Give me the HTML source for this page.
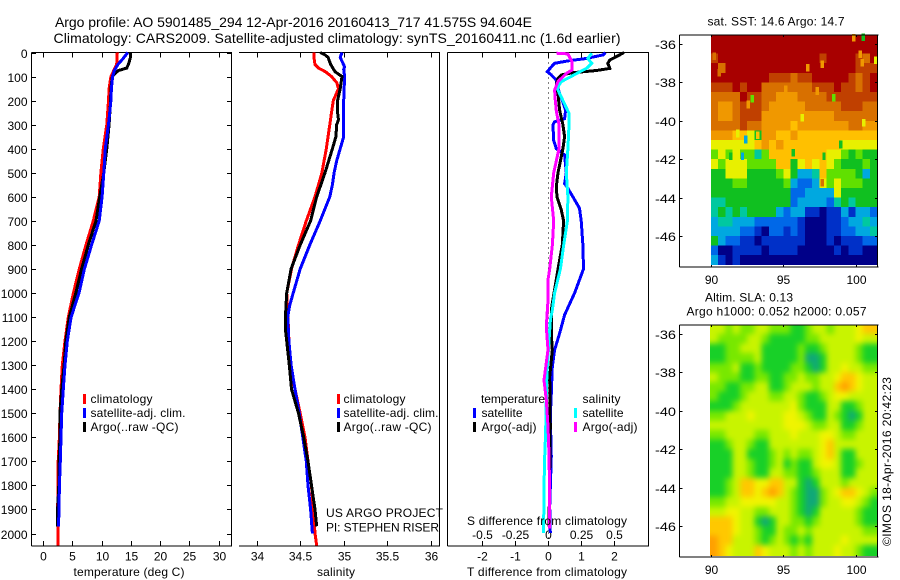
<!DOCTYPE html>
<html lang="en">
<head>
<meta charset="utf-8">
<title>Argo profile</title>
<style>
html,body{margin:0;padding:0;background:#fff;width:900px;height:580px;overflow:hidden}
svg{display:block}
text{font-family:"Liberation Sans",sans-serif;font-size:12px;fill:#000}
.t14{font-size:14px}
</style>
</head>
<body>
<svg id="fig" xmlns="http://www.w3.org/2000/svg" width="900" height="580" viewBox="0 0 900 580">
<defs>
<clipPath id="slaClip"><rect x="710" y="325" width="167" height="231"/></clipPath>
<filter id="slaBlur" x="-10%" y="-10%" width="120%" height="120%" color-interpolation-filters="sRGB"><feGaussianBlur stdDeviation="2.8"/></filter>
</defs>
<text class="t14" x="55" y="27" textLength="477">Argo profile: AO 5901485_294 12-Apr-2016 20160413_717 41.575S 94.604E</text>
<text class="t14" x="53.500" y="43" textLength="567">Climatology: CARS2009. Satellite-adjusted climatology: synTS_20160411.nc (1.6d earlier)</text>

<g id="maps"></g>
<g id="axes"></g>
<g id="series"></g>

<text x="129" y="576" text-anchor="middle" textLength="111">temperature (deg C)</text>
<text x="336" y="576" text-anchor="middle" textLength="38">salinity</text>
<text x="547" y="576" text-anchor="middle" textLength="160">T difference from climatology</text>
<text x="547" y="525" text-anchor="middle" textLength="160">S difference from climatology</text>

<g>
<rect x="83" y="394" width="3" height="10" fill="#ff0000"/><text x="90.500" y="403" textLength="62">climatology</text>
<rect x="83" y="408" width="3" height="10" fill="#0000ff"/><text x="90.500" y="417" textLength="95">satellite-adj. clim.</text>
<rect x="83" y="422" width="3" height="10" fill="#000"/><text x="90.500" y="431" textLength="88">Argo(..raw -QC)</text>
</g>
<g>
<rect x="337" y="394" width="3" height="10" fill="#ff0000"/><text x="343.500" y="403" textLength="62">climatology</text>
<rect x="337" y="408" width="3" height="10" fill="#0000ff"/><text x="343.500" y="417" textLength="95">satellite-adj. clim.</text>
<rect x="337" y="422" width="3" height="10" fill="#000"/><text x="343.500" y="431" textLength="88">Argo(..raw -QC)</text>
</g>
<g>
<text x="481" y="403" textLength="64">temperature</text>
<text x="582.500" y="403" textLength="38">salinity</text>
<rect x="473" y="408" width="3" height="10" fill="#0000ff"/><text x="481.500" y="417" textLength="41">satellite</text>
<rect x="473" y="422" width="3" height="10" fill="#000"/><text x="481.500" y="431" textLength="55">Argo(-adj)</text>
<rect x="574" y="408" width="3" height="10" fill="#00ffff"/><text x="582.500" y="417" textLength="41">satellite</text>
<rect x="574" y="422" width="3" height="10" fill="#ff00ff"/><text x="582.500" y="431" textLength="55">Argo(-adj)</text>
</g>
<text x="326" y="517" textLength="117">US ARGO PROJECT</text>
<text x="326" y="531.500" textLength="113">PI: STEPHEN RISER</text>

<text x="707.500" y="25.500" textLength="137">sat. SST: 14.6 Argo: 14.7</text>
<text x="705" y="301.500" textLength="88">Altim. SLA: 0.13</text>
<text x="686.500" y="315.500" textLength="180">Argo h1000: 0.052 h2000: 0.057</text>
<text transform="translate(891 546) rotate(-90)" textLength="169">©IMOS 18-Apr-2016 20:42:23</text>
</svg>

<script>
// ---- profile data: depth (m) and values ----
var depthTicks = [0,100,200,300,400,500,600,700,800,900,1000,1100,1200,1300,1400,1500,1600,1700,1800,1900,2000];
var tempTicks = [0,5,10,15,20,25,30];
var salTicks = [34,34.5,35,35.5,36];
var salTickLabels = ['34','34.5','35','35.5','36'];
var tDiffTicks = [-2,-1,0,1,2];
var sDiffTicks = [-0.5,-0.25,0,0.25,0.5];
var sDiffTickLabels = ['-0.5','-0.25','0','0.25','0.5'];

var tempClimDepth = [0,50,100,150,200,300,400,500,600,700,800,900,1000,1100,1200,1300,1400,1500,1600,1700,1800,1900,2000,2050];
var tempClim = [12.7,12.6,11.6,11.3,11.2,10.9,10.3,9.9,9.6,8.6,7.35,6.2,5.2,4.33,3.76,3.3,3.08,2.9,2.8,2.6,2.6,2.5,2.6,2.6];
var tempSatDepth = [0,25,50,75,100,150,200,300,400,500,600,700,800,900,1000,1100,1200,1300,1400,1500,1600,1700,1800,1900,1970];
var tempSat = [14.5,13.7,12.8,12.2,11.9,11.7,11.6,11.2,10.65,10.4,10.1,9.6,8.3,7.07,6.15,4.8,4.15,3.76,3.47,3.2,3.08,2.96,2.8,2.74,2.65];
var tempArgoDepth = [0,25,50,65,75,90,100,150,200,300,400,500,600,700,800,900,1000,1100,1200,1300,1400,1500,1600,1700,1800,1900,1970];
var tempArgo = [15,14.9,14.6,14.3,12.9,12.2,11.85,11.6,11.55,11.3,10.9,10.4,9.7,9.06,7.75,6.6,5.6,4.5,3.9,3.6,3.2,2.9,2.9,2.74,2.7,2.5,2.5];

var salClimDepth = [0,25,50,65,80,100,125,150,175,200,250,300,400,500,600,700,800,900,1000,1100,1200,1300,1400,1500,1600,1700,1800,1900,2000,2050];
var salClim = [34.66,34.66,34.67,34.71,34.79,34.86,34.92,34.94,34.91,34.88,34.86,34.84,34.8,34.75,34.67,34.57,34.48,34.4,34.345,34.36,34.37,34.38,34.44,34.5,34.555,34.59,34.63,34.65,34.67,34.69];
var salSatDepth = [0,20,40,60,70,100,200,300,350,400,450,500,550,600,650,700,800,900,1000,1050,1100,1200,1300,1400,1500,1600,1700,1800,1900,2000];
var salSat = [34.98,34.96,34.985,35.01,35,35.01,35,35,35,34.96,34.92,34.89,34.87,34.84,34.785,34.73,34.61,34.5,34.42,34.38,34.356,34.37,34.395,34.44,34.49,34.53,34.57,34.59,34.62,34.64];
var salArgoDepth = [0,10,20,50,80,100,150,200,250,280,300,350,400,500,600,700,800,900,1000,1100,1150,1200,1300,1400,1500,1600,1700,1800,1900,1970];
var salArgo = [34.73,34.785,34.82,34.85,34.9,34.98,34.96,34.93,34.93,34.94,34.92,34.91,34.87,34.785,34.69,34.62,34.5,34.395,34.345,34.33,34.33,34.345,34.375,34.4,34.48,34.54,34.59,34.63,34.67,34.69];

var tDiffSatDepth = [0,10,25,35,45,60,80,93,115,135,170,200,240,275,288,300,365,400,426,500,545,565,600,648,700,800,900,945,1000,1091,1168,1237,1306,1417,1514,1680,1888,1998];
var tDiffSat = [1.73,1.66,1.15,0.6,0.2,0.1,-0.02,0.1,0.25,0.27,0.35,0.43,0.53,0.5,0.2,0.15,0.17,0.25,0.5,0.55,0.5,0.6,0.75,0.95,1.0,1.05,1.07,0.95,0.8,0.5,0.35,0.2,0.13,0.1,0.07,0.1,0.05,0.07];
var tDiffArgoDepth = [0,10,31,45,66,75,84,93,107,135,170,240,300,350,400,500,558,600,655,700,800,900,1000,1070,1168,1237,1348,1555,1970];
var tDiffArgo = [2.29,2.16,1.86,1.8,1.86,1.46,0.75,0.4,0.3,0.25,0.3,0.35,0.45,0.5,0.45,0.3,0.25,0.27,0.4,0.47,0.43,0.3,0.18,0.1,0.1,0.13,0.05,0.07,0.03];
var sDiffSatDepth = [3,25,45,66,80,100,121,149,200,253,300,400,500,600,700,800,900,1000,1070,1112,1237,1334,1445,1583,1680,1805,1998];
var sDiffSat = [0.33,0.3,0.33,0.29,0.24,0.175,0.1,0.068,0.113,0.158,0.158,0.15,0.138,0.15,0.146,0.118,0.093,0.05,0.033,0.018,0.003,-0.008,-0.013,-0.018,-0.025,-0.03,-0.033];
var sDiffArgoDepth = [3,6,38,73,87,121,156,200,246,300,400,500,600,700,800,900,945,1029,1140,1237,1362,1445,1555,1680,1888,1980];
var sDiffArgo = [0.063,0.15,0.18,0.18,0.138,0.075,0.05,0.055,0.063,0.083,0.083,0.043,0.025,0.043,0.033,0.013,0,0,-0.013,0,-0.03,-0.013,0,0.008,0.013,0.013];

// ---- map data: one row per 0.5 deg latitude from -35.5, one column per 0.5 deg longitude from 90 ----
var mapLonTicks = [90,95,100];
var mapLatTicks = [-36,-38,-40,-42,-44,-46];
var sstPalette = ['#000088','#0030c8','#0068e8','#00a8e0','#00c8a0','#10c020','#60e000','#e8f000','#ffc000','#f09800','#d87000','#c04000','#a80000'];
var sstLevels = [
[12,12,12,12,12,12,12,12,12,12,12,12,12,12,12,12,12,12,12,12,12,12,12],
[12,12,12,12,12,12,12,12,12,12,12,12,12,12,12,12,12,12,12,12,12,12,12],
[11,12,12,12,12,12,12,12,12,12,12,12,12,12,12,11,12,12,12,12,11,10,12],
[12,10,12,12,12,12,12,12,12,12,12,12,12,12,12,12,12,12,12,12,11,11,11],
[12,12,12,12,12,12,12,12,11,11,11,10,11,11,12,12,12,12,12,11,10,11,12],
[11,11,11,12,11,12,12,10,10,10,10,10,10,10,11,11,11,12,11,11,10,11,12],
[10,10,10,10,12,11,11,10,10,9,9,9,10,10,10,10,11,11,11,11,11,11,11],
[10,9,9,10,11,11,11,10,9,9,9,9,9,10,10,10,10,10,11,11,11,10,10],
[10,9,9,10,11,11,11,9,9,9,9,9,9,9,9,9,9,10,10,10,10,10,10],
[10,10,10,10,11,10,10,9,9,9,9,8,9,9,9,9,9,9,9,10,10,9,9],
[9,9,9,8,8,7,5,9,9,8,8,9,8,8,8,8,8,8,8,8,8,8,8],
[7,7,7,7,7,7,8,9,8,9,8,8,8,8,8,8,8,8,7,7,7,7,7],
[6,7,6,7,6,6,4,6,8,8,8,8,8,8,8,8,7,7,6,5,6,5,5],
[7,6,7,7,7,6,6,6,6,8,8,5,7,8,7,8,7,6,5,5,5,6,5],
[5,5,7,7,7,5,5,5,5,6,7,5,3,3,4,8,6,6,6,6,5,3,5],
[5,5,5,6,6,5,5,5,5,5,6,3,2,2,3,7,6,7,6,6,6,5,5],
[5,5,5,5,5,5,5,5,5,5,5,2,2,3,3,3,3,7,5,5,5,5,5],
[4,4,5,5,5,5,5,5,5,5,5,2,3,3,3,3,2,4,5,4,5,5,5],
[4,5,4,5,4,5,5,5,5,3,2,3,3,1,1,0,1,1,3,1,3,3,2],
[3,4,4,3,3,3,2,2,2,2,2,2,1,0,0,0,1,1,2,3,3,4,3],
[3,3,3,3,2,2,1,0,2,2,1,2,1,0,0,0,1,1,2,2,3,3,4],
[5,3,2,2,1,1,0,1,1,1,1,1,1,0,0,0,1,0,1,1,1,2,2],
[2,0,0,1,1,1,1,0,1,1,1,1,0,0,0,0,0,1,0,1,1,0,0],
[3,1,0,1,0,0,0,0,0,0,0,0,0,0,0,0,0,0,0,0,0,0,0]
];
var sstSpeckleLon = [100.53,99.89,100.34,100.46,101.4,97.7,96.71,90.57,90.23,92.87,92.57,98.5,97.36,95.17,96.32,100.57,91.84,92.41,93.22,95.7,97.82,97.7,91.38,92.18,98.97];
var sstSpeckleLat = [-35.64,-35.67,-36.54,-36.98,-36.84,-37.06,-37.24,-37.5,-36.63,-38.85,-39.15,-38.8,-38.45,-38.36,-39.84,-40.1,-40.66,-40.97,-40.76,-41.66,-41.84,-43.23,-41.84,-41.84,-41.23];
var sstSpeckleLevel = [5,9,9,9,7,9,9,10,10,6,9,6,9,9,7,7,7,3,8,5,5,10,5,3,5];
var slaPalette = ['#10a878','#18d028','#78e800','#c8f400','#f0f400','#ffc800','#ffa000'];
var slaLevels = [
[3,3,2,3,2,2,3,3,2,2,2,1,1,2,3,3,2,3,3,3,4,5,5],
[3,2,2,2,2,3,3,2,1,1,1,1,1,2,2,3,3,3,3,3,4,3,3],
[1,1,2,2,3,3,3,1,1,1,1,1,2,1,1,2,3,3,3,3,2,1,1],
[1,1,2,2,2,2,3,1,1,1,1,1,2,0,0,1,3,3,3,3,2,1,1],
[2,2,2,3,1,1,2,1,1,1,1,2,2,1,0,1,3,3,4,3,3,2,2],
[3,2,2,2,1,1,2,2,1,1,2,2,3,2,2,3,3,4,5,5,4,3,3],
[2,2,1,1,2,2,3,3,1,1,2,3,3,3,2,3,3,5,6,5,4,3,3],
[2,1,1,1,2,3,3,3,2,2,3,3,2,1,1,2,3,4,4,3,3,3,3],
[1,1,1,2,3,3,3,3,3,3,3,4,2,1,1,1,3,3,1,1,2,3,3],
[2,2,3,3,3,4,3,3,3,3,4,4,3,2,1,1,3,2,1,0,1,3,3],
[3,3,3,3,3,3,3,3,3,3,4,4,4,3,2,2,3,3,1,1,2,3,3],
[2,2,3,3,3,3,2,2,3,3,3,4,3,3,3,4,4,3,2,2,3,3,3],
[1,1,2,3,3,2,1,1,3,3,3,3,3,3,3,4,5,3,3,3,3,3,3],
[1,1,1,3,3,1,1,1,2,3,2,3,2,2,3,4,5,3,1,1,3,3,3],
[1,1,1,3,3,2,1,1,2,3,1,2,1,1,3,4,4,3,1,1,2,3,3],
[1,1,1,3,3,2,1,1,3,3,2,2,1,1,2,3,3,3,1,1,3,3,3],
[1,1,2,3,5,5,4,4,5,5,3,3,1,0,1,3,3,3,2,3,3,3,3],
[1,1,2,3,5,5,4,5,6,5,3,2,1,0,0,2,3,4,5,5,4,3,2],
[2,2,3,3,4,4,4,4,4,3,3,2,1,0,0,2,3,3,4,4,3,2,1],
[3,3,4,4,3,3,2,2,3,3,3,2,1,0,1,3,3,3,3,3,2,1,1],
[5,5,5,4,3,3,1,0,1,3,3,2,2,1,2,3,3,3,3,3,2,1,1],
[5,5,5,4,3,3,2,1,1,3,2,2,3,2,3,3,3,3,3,3,3,2,2],
[6,5,5,3,3,3,2,1,2,3,2,1,2,1,3,3,3,3,4,3,3,3,3],
[6,5,4,3,3,3,5,4,3,3,3,2,3,2,3,3,3,4,3,3,2,1,1]
];

// ---- helpers ----
var SVGNS = 'http://www.w3.org/2000/svg';
var seriesG = document.getElementById('series');
var axesG = document.getElementById('axes');
var mapsG = document.getElementById('maps');
var PTOP = 52.5, PBOT = 546;
function depthY(d){ return 52.5 + d * 0.2405; }
function tempX(t){ return 43 + t * 5.85; }
function salX(s){ return 256.7 + (s - 34) * 87; }
function tDiffX(d){ return 548 + d * 33.2; }
function sDiffX(s){ return 548 + s * 132.8; }
function lonX(lon){ return 711 + (lon - 90) * 14.45; }
function latY(lat){ return 44 + (-36 - lat) * 19.2; }

function mk(tag, parent, attrs){
  var e = document.createElementNS(SVGNS, tag);
  for (var k in attrs) e.setAttribute(k, attrs[k]);
  parent.appendChild(e);
  return e;
}
function seg(parent, x1, y1, x2, y2){
  return mk('line', parent, {x1:x1, y1:y1, x2:x2, y2:y2, stroke:'#000', 'stroke-width':1, 'shape-rendering':'crispEdges'});
}
function label(parent, x, y, str, anchor){
  var t = mk('text', parent, {x:x, y:y, 'text-anchor':anchor});
  t.textContent = str;
  return t;
}
function profile(name, depths, values, xf, color){
  var pts = [];
  for (var i = 0; i < values.length; i++) pts.push(xf(values[i]).toFixed(1) + ',' + depthY(depths[i]).toFixed(1));
  var p = mk('polyline', seriesG, {points:pts.join(' '), fill:'none', stroke:color, 'stroke-width':3, 'stroke-linejoin':'miter', 'shape-rendering':'crispEdges'});
  
  
}

// ---- panel frames and ticks ----
var tempPanel = mk('g', axesG, {});


seg(tempPanel, 31.5, PTOP, 232, PTOP);
seg(tempPanel, 31.5, PBOT, 232, PBOT);
seg(tempPanel, 31.5, PTOP, 31.5, PBOT);
seg(tempPanel, 231.5, PTOP, 231.5, PBOT);
depthTicks.forEach(function(d){
  var y = Math.round(depthY(d)) + 0.5;
  seg(tempPanel, 31.5, y, 36, y);
  seg(tempPanel, 227, y, 231.5, y);
  label(tempPanel, 27.5, y + 4.5, String(d), 'end');
});
tempTicks.forEach(function(t){
  var x = Math.round(tempX(t)) + 0.5;
  seg(tempPanel, x, PTOP, x, PTOP + 5);
  seg(tempPanel, x, PBOT - 5, x, PBOT);
  label(tempPanel, x, 560.5, String(t), 'middle');
});

var salPanel = mk('g', axesG, {});


seg(salPanel, 239, PTOP, 440, PTOP);
seg(salPanel, 239, PBOT, 440, PBOT);
seg(salPanel, 439.5, PTOP, 439.5, PBOT);
salTicks.forEach(function(s, i){
  var x = Math.round(salX(s)) + 0.5;
  seg(salPanel, x, PTOP, x, PTOP + 5);
  seg(salPanel, x, PBOT - 5, x, PBOT);
  label(salPanel, x, 560.5, salTickLabels[i], 'middle');
});

var diffPanel = mk('g', axesG, {});


seg(diffPanel, 447.5, PTOP, 649, PTOP);
seg(diffPanel, 447.5, PBOT, 649, PBOT);
seg(diffPanel, 447.5, PTOP, 447.5, PBOT);
seg(diffPanel, 648.5, PTOP, 648.5, PBOT);
tDiffTicks.forEach(function(t){
  var x = Math.round(tDiffX(t)) + 0.5;
  seg(diffPanel, x, PTOP, x, PTOP + 5);
  seg(diffPanel, x, PBOT - 5, x, PBOT);
  label(diffPanel, x, 560.5, String(t), 'middle');
});
sDiffTicks.forEach(function(s, i){
  label(diffPanel, Math.round(sDiffX(s)) + 0.5, 539, sDiffTickLabels[i], 'middle');
});
var zeroLine = mk('line', diffPanel, {x1:548.5, y1:PTOP, x2:548.5, y2:PBOT, stroke:'#000', 'stroke-width':1, 'stroke-dasharray':'1 4', 'shape-rendering':'crispEdges'});



// ---- profile series ----
profile('temperature-climatology-line', tempClimDepth, tempClim, tempX, '#ff0000');
profile('temperature-argo-line', tempArgoDepth, tempArgo, tempX, '#000000');
profile('temperature-satellite-line', tempSatDepth, tempSat, tempX, '#0000ff');
profile('salinity-climatology-line', salClimDepth, salClim, salX, '#ff0000');
profile('salinity-satellite-line', salSatDepth, salSat, salX, '#0000ff');
profile('salinity-argo-line', salArgoDepth, salArgo, salX, '#000000');
profile('t-difference-satellite-line', tDiffSatDepth, tDiffSat, tDiffX, '#0000ff');
profile('t-difference-argo-line', tDiffArgoDepth, tDiffArgo, tDiffX, '#000000');
profile('s-difference-satellite-line', sDiffSatDepth, sDiffSat, sDiffX, '#00ffff');
profile('s-difference-argo-line', sDiffArgoDepth, sDiffArgo, sDiffX, '#ff00ff');

// ---- maps ----
function drawCells(parent, levels, palette, bleed){
  var rows = levels.length, cols = levels[0].length;
  for (var r = 0; r < rows; r++) {
    for (var c = 0; c < cols; c++) {
      var x0 = lonX(90 + c * 0.5), x1 = lonX(90 + (c + 1) * 0.5);
      var y0 = latY(-35.5 - r * 0.5), y1 = latY(-35.5 - (r + 1) * 0.5);
      if (bleed) {
        if (c === 0) x0 -= 14;
        if (c === cols - 1) x1 += 14;
        if (r === 0) y0 -= 14;
        if (r === rows - 1) y1 += 14;
      }
      mk('rect', parent, {x:x0.toFixed(2), y:y0.toFixed(2), width:(x1 - x0 + 0.3).toFixed(2), height:(y1 - y0 + 0.3).toFixed(2), fill:palette[levels[r][c]], 'shape-rendering':'crispEdges'});
    }
  }
}
function mapFrame(parent, offset){
  var top = 35 + offset, bot = 267 + offset;
  seg(parent, 679.5, top, 878.5, top);
  seg(parent, 679.5, bot, 878.5, bot);
  seg(parent, 679.5, top, 679.5, bot);
  seg(parent, 877.5, top, 877.5, bot);
  mapLatTicks.forEach(function(lat){
    var y = Math.round(latY(lat)) + 0.5 + offset;
    seg(parent, 679.5, y, 682.5, y);
    seg(parent, 875, y, 877.5, y);
    var latText = label(parent, 676, y + 4.5, String(lat), 'end');
    latText.setAttribute('textLength', '21');
    latText.setAttribute('lengthAdjust', 'spacingAndGlyphs');
  });
  mapLonTicks.forEach(function(lon){
    var x = Math.round(lonX(lon)) + 0.5;
    seg(parent, x, top, x, top + 2);
    seg(parent, x, bot - 2, x, bot);
    label(parent, x, 284 + offset, String(lon), 'middle');
  });
}
var sstMap = mk('g', mapsG, {});


drawCells(sstMap, sstLevels, sstPalette, false);
sstSpeckleLevel.forEach(function(level, i){
  mk('rect', sstMap, {x:lonX(sstSpeckleLon[i] - 0.12).toFixed(2), y:latY(sstSpeckleLat[i] + 0.2).toFixed(2), width:(14.45 * 0.24).toFixed(2), height:(19.2 * 0.4).toFixed(2), fill:sstPalette[level], 'shape-rendering':'crispEdges'});
});
mapFrame(sstMap, 0);

var slaMap = mk('g', mapsG, {});


var slaClipG = mk('g', slaMap, {'clip-path':'url(#slaClip)'});
var slaShift = mk('g', slaClipG, {transform:'translate(0 290)', filter:'url(#slaBlur)'});
drawCells(slaShift, slaLevels, slaPalette, true);
mapFrame(slaMap, 290);
</script>
</body>
</html>
